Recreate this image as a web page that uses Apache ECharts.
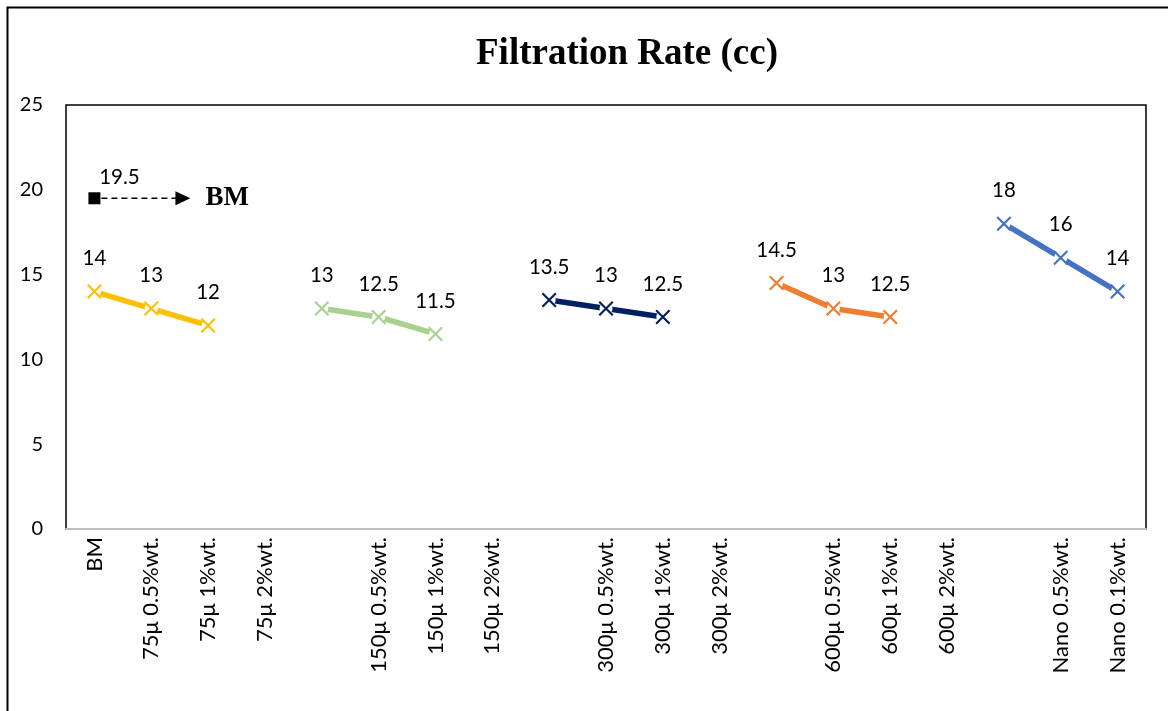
<!DOCTYPE html>
<html><head><meta charset="utf-8">
<script src="https://cdn.jsdelivr.net/npm/echarts@6/dist/echarts.min.js"></script>
<style>html,body{margin:0;padding:0;background:#fff}#c{width:1168px;height:711px}</style>
</head><body><div id="c"></div>
<script>
const categories = ['BM','75μ 0.5%wt.','75μ 1%wt.','75μ 2%wt.','','150μ 0.5%wt.','150μ 1%wt.','150μ 2%wt.','','300μ 0.5%wt.','300μ 1%wt.','300μ 2%wt.','','600μ 0.5%wt.','600μ 1%wt.','600μ 2%wt.','','Nano 0.5%wt.','Nano 0.1%wt.'];
const titleText = 'Filtration Rate (cc)';
const bmLabel = 'BM';
const bmValues   = [19.5,null,null,null,null,null,null,null,null,null,null,null,null,null,null,null,null,null,null];
const s75Values  = [14,13,12,null,null,null,null,null,null,null,null,null,null,null,null,null,null,null,null];
const s150Values = [null,null,null,null,13,12.5,11.5,null,null,null,null,null,null,null,null,null,null,null,null];
const s300Values = [null,null,null,null,null,null,null,null,13.5,13,12.5,null,null,null,null,null,null,null,null];
const s600Values = [null,null,null,null,null,null,null,null,null,null,null,null,14.5,13,12.5,null,null,null,null];
const nanoValues = [null,null,null,null,null,null,null,null,null,null,null,null,null,null,null,null,18,16,14];
const yMin = 0, yMax = 25, yStep = 5;

const groups = [
  {name:'75μ', data:s75Values, color:'#FFC000'},
  {name:'150μ', data:s150Values, color:'#A9D18E'},
  {name:'300μ', data:s300Values, color:'#002060'},
  {name:'600μ', data:s600Values, color:'#ED7D31'},
  {name:'Nano', data:nanoValues, color:'#4472C4'}
];
const FONT = 'Lato';
const xSym = 'path://M0,1L1,0L10,9L9,10ZM9,0L10,1L1,10L0,9Z';

const series = [];
groups.forEach(g => {
  series.push({
    name: g.name + ' line', type:'line', data:g.data, connectNulls:false,
    symbol:'circle', symbolSize:13, itemStyle:{color:'#ffffff', borderWidth:0},
    lineStyle:{color:g.color, width:5.5}, z:2, silent:true, animation:false
  });
  series.push({
    name: g.name, type:'line', data:g.data, lineStyle:{width:0, opacity:0},
    symbol:xSym, symbolSize:15, itemStyle:{color:g.color}, z:3, animation:false,
    label:{show:true, position:'top', distance:15, color:'#000', fontFamily:FONT, fontSize:20.5}
  });
});
series.push({
  name:'BM', type:'line', data:bmValues, symbol:'rect', symbolSize:12,
  itemStyle:{color:'#000'}, z:4, animation:false,
  label:{show:true, position:'top', distance:4, offset:[25,0], color:'#000', fontFamily:FONT, fontSize:20.5}
});

const chart = echarts.init(document.getElementById('c'), null, {renderer:'canvas'});
chart.setOption({
  backgroundColor:'#fff',
  animation:false,
  title:{text:titleText, left:471, top:31, textStyle:{fontFamily:'Liberation Serif', fontWeight:'bold', fontSize:37, color:'#000'}},
  grid:{left:66, right:22, top:105, bottom:182, show:true, borderColor:'#000', borderWidth:1.5, backgroundColor:'transparent'},
  xAxis:{type:'category', data:categories, boundaryGap:true,
    axisLine:{lineStyle:{color:'#BFBFBF', width:2}}, axisTick:{show:false},
    axisLabel:{rotate:90, interval:0, margin:8, color:'#000', fontFamily:FONT, fontSize:22}},
  yAxis:{type:'value', min:yMin, max:yMax, interval:yStep,
    axisLine:{show:false}, axisTick:{show:false}, splitLine:{show:false},
    axisLabel:{margin:23, color:'#000', fontFamily:FONT, fontSize:20}},
  series: series
});

const p = chart.convertToPixel({gridIndex:0}, [0, bmValues[0]]);
chart.setOption({graphic:[
  {type:'rect', left:5, top:5, shape:{width:1180, height:720}, style:{fill:'none', stroke:'#000', lineWidth:2}, silent:true},
  {type:'line', shape:{x1:p[0]+7, y1:p[1], x2:p[0]+82, y2:p[1]}, style:{stroke:'#000', lineWidth:1.5, lineDash:[6,4]}},
  {type:'polygon', shape:{points:[[p[0]+81,p[1]-7],[p[0]+96,p[1]],[p[0]+81,p[1]+7]]}, style:{fill:'#000'}},
  {type:'text', x:p[0]+111, y:p[1], style:{text:bmLabel, fill:'#000', font:'bold 27px "Liberation Serif"', verticalAlign:'middle'}}
]});
</script></body></html>
